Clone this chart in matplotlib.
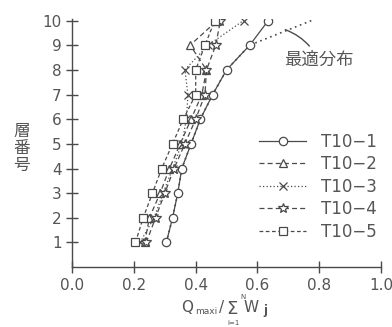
import matplotlib
matplotlib.use("Agg")
import matplotlib.pyplot as plt
from matplotlib.lines import Line2D

floors = [1, 2, 3, 4, 5, 6, 7, 8, 9, 10]
t10_1 = [0.305, 0.325, 0.342, 0.355, 0.385, 0.415, 0.455, 0.500, 0.575, 0.635]
t10_2 = [0.235, 0.250, 0.285, 0.315, 0.350, 0.385, 0.420, 0.435, 0.382, 0.470]
t10_3 = [0.220, 0.265, 0.295, 0.325, 0.355, 0.370, 0.375, 0.365, 0.440, 0.555]
t10_4 = [0.240, 0.270, 0.300, 0.330, 0.365, 0.400, 0.430, 0.435, 0.465, 0.480]
t10_5 = [0.205, 0.230, 0.260, 0.290, 0.325, 0.360, 0.400, 0.400, 0.430, 0.462]
optimal = [0.305, 0.325, 0.342, 0.355, 0.385, 0.415, 0.455, 0.500, 0.575, 0.775]
labels = ["T10\u22121", "T10\u22122", "T10\u22123", "T10\u22124", "T10\u22125"]
xticks = [0.0, 0.2, 0.4, 0.6, 0.8, 1.0]
xticklabels = ["0.0", "0.2", "0.4", "0.6", "0.8", "1.0"]
yticks = [1, 2, 3, 4, 5, 6, 7, 8, 9, 10]

ink = "#4a4a4a"
txt = "#555555"
plt.rcParams['font.family'] = ['DejaVu Sans', 'Noto Sans CJK JP']

W, H = 392, 327
fig = plt.figure(figsize=(W / 100, H / 100), dpi=100)
ax = fig.add_axes([0.184, 0.183, 0.788, 0.758])

ax.plot(optimal, floors, linestyle=(0, (1, 2.2)), color=ink, lw=1.2, zorder=1)

styles = [
    (t10_1, 'o', '-'),
    (t10_2, '^', (0, (4, 2.5))),
    (t10_3, 'x', (0, (1, 1.8))),
    (t10_4, '*', (0, (4, 2.5))),
    (t10_5, 's', (0, (3, 2))),
]
handles = []
for (vals, m, ls), lab in zip(styles, labels):
    ms = 7.5 if m == '*' else 6
    kw = dict(linestyle=ls, color=ink, lw=0.9, marker=m, markersize=ms,
              markerfacecolor='white' if m != 'x' else ink,
              markeredgecolor=ink, markeredgewidth=0.9)
    ax.plot(vals, floors, zorder=3, **kw)
    handles.append(Line2D([0], [0], **kw))

ax.set_xlim(0, 1.0)
ax.set_ylim(0, 10.05)
ax.spines['top'].set_visible(False)
ax.spines['right'].set_visible(False)
for s in ['left', 'bottom']:
    ax.spines[s].set_color(ink)
    ax.spines[s].set_linewidth(1.0)
ax.set_xticks(xticks)
ax.set_xticklabels(xticklabels)
ax.set_yticks(yticks)
ax.tick_params(direction='inout', length=9, width=1.0, colors=ink,
               labelsize=11, labelcolor=txt, pad=3)

ax.annotate("最適分布", xy=(0.69, 9.63), xytext=(0.685, 8.4),
            fontsize=12.5, color=txt, family=['Noto Sans CJK JP'],
            va='center', ha='left',
            arrowprops=dict(arrowstyle='-', color=ink, lw=1.0,
                            connectionstyle="arc3,rad=0.2", shrinkA=2, shrinkB=0))

fig.text(0.055, 0.545, "層\n番\n号", fontsize=12, color=txt,
         family=['Noto Sans CJK JP'], ha='center', va='center', linespacing=1.0)


def ptext(x, y, s, size, **kw):
    fig.text(x / W, 1 - y / H, s, fontsize=size, color=txt, **kw)


# x-axis label: Q_maxi / Σ_{i=1}^{N} W_j built from pieces
ptext(181, 312, "Q", 11, va='baseline')
ptext(195, 314, "maxi", 6.5, va='baseline')
ptext(219, 312, "/", 11, va='baseline')
ptext(226, 314, "\u03a3", 13, va='baseline')
ptext(243, 299, "N", 5, va='baseline', ha='center')
ptext(234, 325, "i=1", 5, va='baseline', ha='center')
ptext(244, 312, "W", 11, va='baseline')
ptext(263, 314, "j", 8.5, va='baseline', fontweight='bold')

leg = ax.legend(handles, labels, loc='upper left', bbox_to_anchor=(0.585, 0.57),
                frameon=False, handlelength=2.8, labelspacing=0.27,
                handletextpad=0.9, fontsize=12, borderaxespad=0)
for t in leg.get_texts():
    t.set_color(txt)

fig.savefig("out.png", dpi=100, facecolor='white')
